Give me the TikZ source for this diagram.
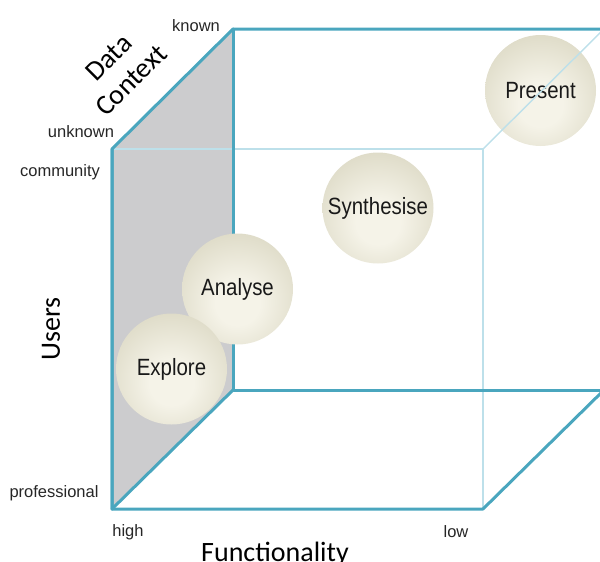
\documentclass[tikz,border=0pt]{standalone}
\usepackage{graphicx}
\usepackage{fontspec}
\setmainfont{Liberation Sans}
\newfontfamily\titlefont{Carlito}
\newcommand\stagetext[1]{\scalebox{0.87}[1]{#1}}
\definecolor{edgeteal}{HTML}{4AA6BE}
\definecolor{edgelight}{HTML}{BDE0EA}
\definecolor{facegray}{HTML}{CCCCCE}
\definecolor{ballin}{HTML}{F5F3E8}
\definecolor{ballmid}{HTML}{DFDCC9}
\definecolor{ballout}{HTML}{AEAA96}
\pgfdeclareradialshading{stageball}{\pgfpoint{0bp}{-7bp}}{%
  color(0bp)=(ballin); color(10bp)=(ballin); color(30bp)=(ballmid);
  color(47bp)=(ballout); color(50bp)=(ballout); color(100bp)=(ballout)}
\tikzset{
  thickedge/.style={draw=edgeteal, line width=3pt, line cap=round, line join=round},
  thinedge/.style={draw=edgelight, line width=1.4pt},
  stage/.style={circle, minimum size=111pt, inner sep=0pt, shading=stageball,
    text=black!90, font=\fontsize{23.5}{26}\selectfont},
  axislabel/.style={inner sep=0pt, anchor=base, text=black!85,
    font=\fontsize{16.5}{19}\selectfont},
  axistitle/.style={inner sep=0pt, font=\titlefont\fontsize{28}{32}\selectfont},
}
\begin{document}
\begin{tikzpicture}[x=1pt, y=-1pt]
\useasboundingbox (0,0) rectangle (600,562);
\begin{scope}
\clip (0,0) rectangle (600,562);
% cube corners: front face (f) and back face (b)
\coordinate (ftl) at (112,149);
\coordinate (fbl) at (112,509);
\coordinate (fbr) at (483,509);
\coordinate (ftr) at (483,149);
\coordinate (btl) at (233,29);
\coordinate (bbl) at (233,390);
\coordinate (bbr) at (604,390);
\coordinate (btr) at (604,29);
% shaded left face
\fill[facegray] (ftl) -- (btl) -- (bbl) -- (fbl) -- cycle;
% hidden edges
\draw[thinedge] (ftl) -- (ftr) -- (fbr);
% visible edges
\draw[thickedge] (fbl) -- (ftl) -- (btl) -- (btr);
\draw[thickedge] (btl) -- (bbl) -- (bbr);
\draw[thickedge] (ftl) -- (fbl) -- (fbr) -- (bbr);
\draw[thickedge] (fbl) -- (bbl);
% stages
\node[stage] (present) at (540.5,90.5) {\stagetext{Present}};
\node[stage] (synth) at (378,208) {\stagetext{Synthesise}};
\node[stage] (analyse) at (237.5,289) {\stagetext{Analyse}};
\node[stage] (explore) at (171.5,369) {\stagetext{Explore}};
% hidden edge seen through the top stage
\draw[thinedge] (ftr) -- (btr);
\end{scope}
% axis ends
\node[axislabel] (known) at (196,31) {known};
\node[axislabel] (unknown) at (81,137) {unknown};
\node[axislabel] (community) at (60,176) {community};
\node[axislabel] (professional) at (54,497) {professional};
\node[axislabel] (high) at (128,536) {high};
\node[axislabel] (low) at (456,537) {low};
% axis titles
\node[axistitle, anchor=base] (func) at (275,561) {Functionality};
\node[axistitle, rotate=90] (users) at (51,329) {Users};
\node[axistitle, rotate=45, align=center] (ctx) at (120,69) {Data\\Context};
\end{tikzpicture}
\end{document}
